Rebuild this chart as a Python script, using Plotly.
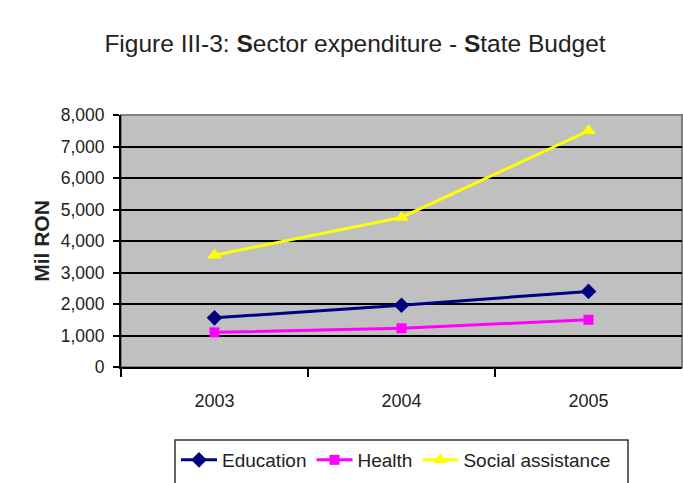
import plotly.graph_objects as go

# Sector expenditure from the State Budget, million RON
years = ["2003", "2004", "2005"]
education = [1560, 1960, 2400]
health = [1100, 1230, 1500]
social_assistance = [3550, 4750, 7500]

series_names = ["Education", "Health", "Social assistance"]
series_values = [education, health, social_assistance]
series_colors = ["#000080", "#FF00FF", "#FFFF00"]
series_symbols = ["diamond", "square", "triangle-up"]
series_sizes = [12, 10, 13]

W, H = 683, 483
L, R, T, B = 121, 1, 115, 116
PW, PH = W - L - R, H - T - B


def px_x(px):
    """Horizontal pixel -> paper coordinate."""
    return (px - L) / PW


def px_y(py):
    """Vertical pixel (from top) -> paper coordinate."""
    return (H - B - py) / PH


FONT = "Liberation Sans, Arial, sans-serif"
TXT = "#222222"

x_idx = list(range(len(years)))
# category boundaries carry the tick marks
boundaries = [i - 0.5 for i in x_idx]

fig = go.Figure()
for name, vals, col, sym, sz in zip(series_names, series_values, series_colors,
                                     series_symbols, series_sizes):
    fig.add_trace(go.Scatter(
        x=x_idx, y=vals, name=name, mode="lines+markers",
        line=dict(color=col, width=3),
        marker=dict(symbol=sym, size=sz, color=col, line=dict(width=0)),
    ))

fig.update_layout(
    width=W, height=H,
    margin=dict(l=L, r=R, t=T, b=B, pad=0),
    paper_bgcolor="white",
    plot_bgcolor="#C0C0C0",
    title=dict(
        text="Figure III-3: <b>S</b>ector expenditure - <b>S</b>tate Budget",
        x=355 / W, xanchor="center",
        y=1 - 43 / H, yanchor="middle",
        font=dict(family=FONT, size=24.5, color=TXT),
    ),
    showlegend=True,
    legend=dict(
        orientation="h",
        x=px_x(176), xanchor="left",
        y=px_y(460), yanchor="middle",
        font=dict(family=FONT, size=19, color=TXT),
        itemwidth=36,
        bgcolor="rgba(0,0,0,0)",
        borderwidth=0,
        itemclick=False, itemdoubleclick=False,
    ),
    xaxis=dict(
        range=[-0.5, len(years) - 0.5],
        tickmode="array", tickvals=x_idx, ticktext=years,
        ticks="", showgrid=False, zeroline=False,
        showline=True, linecolor="black", linewidth=2,
        tickfont=dict(family=FONT, size=18, color=TXT),
        minor=dict(tickmode="array", tickvals=boundaries,
                   ticks="outside", ticklen=8, tickwidth=2, tickcolor="black",
                   showgrid=False),
        ticklabelstandoff=16,
    ),
    yaxis=dict(
        range=[0, 8000], dtick=1000, tick0=0,
        tickformat=",d",
        ticks="outside", ticklen=6, tickwidth=2, tickcolor="black",
        showgrid=True, gridcolor="black", gridwidth=2,
        zeroline=False,
        showline=True, linecolor="black", linewidth=2,
        tickfont=dict(family=FONT, size=17.5, color=TXT),
        ticklabelstandoff=5,
        title=dict(text="<b>Mil RON</b>",
                   font=dict(family=FONT, size=21, color=TXT),
                   standoff=5),
    ),
    shapes=[
        # gray frame around the plot area
        dict(type="rect", xref="x domain", yref="y domain",
             x0=0, x1=1, y0=0, y1=1, line=dict(color="#808080", width=2),
             fillcolor="rgba(0,0,0,0)", layer="below"),
        # legend box (runs past the bottom edge)
        dict(type="rect", xref="paper", yref="paper",
             x0=px_x(175), x1=px_x(628), y0=px_y(500), y1=px_y(440),
             line=dict(color="#333333", width=1.5),
             fillcolor="rgba(0,0,0,0)", layer="above"),
    ],
)

fig.write_html("out.html")
